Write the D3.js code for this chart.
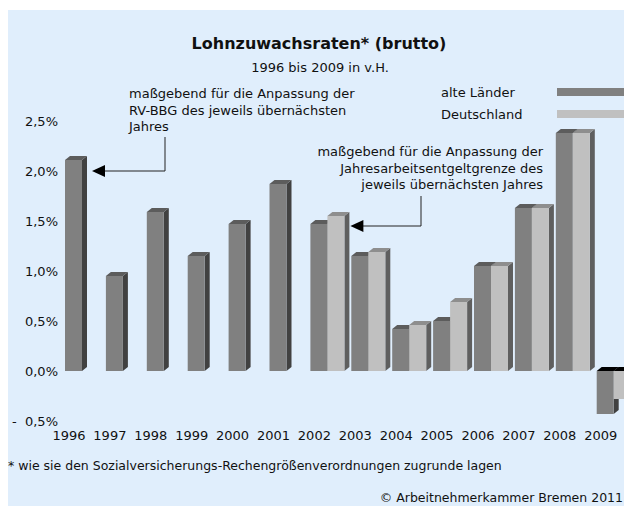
<!DOCTYPE html>
<html>
<head>
<meta charset="utf-8">
<script src="https://cdn.jsdelivr.net/npm/d3@7"></script>
<style>
  body { margin: 0; background: #fff; }
  svg text { font-family: "DejaVu Sans", Verdana, sans-serif; fill: #111; }
</style>
</head>
<body>
<div id="chart"></div>
<script>
// Data
//-------------------------------------------------------
var years = [1996, 1997, 1998, 1999, 2000, 2001, 2002, 2003, 2004, 2005, 2006, 2007, 2008, 2009];
var alteLaender = [2.11, 0.95, 1.59, 1.15, 1.47, 1.87, 1.47, 1.15, 0.42, 0.50, 1.05, 1.63, 2.38, -0.43];
var deutschland = [null, null, null, null, null, null, 1.55, 1.19, 0.46, 0.69, 1.05, 1.63, 2.38, -0.28];
var yTicks = [-0.5, 0, 0.5, 1.0, 1.5, 2.0, 2.5];

// SVG
//-------------------------------------------------------
var svgWidth = 624;
var svgHeight = 511;
var fs = 13;

var svg = d3.select("#chart")
    .append("svg")
    .attr("width", svgWidth)
    .attr("height", svgHeight);

// light blue panel
svg.append("rect")
    .attr("x", 8).attr("y", 10)
    .attr("width", svgWidth - 8).attr("height", 496)
    .attr("fill", "#e0eefc");

// Scales
//-------------------------------------------------------
var yScale = d3.scaleLinear().domain([-0.5, 2.5]).range([421, 121]);
var xScale = d3.scaleBand().domain(years).range([65, 65 + 40.9 * years.length]).padding(0);

var barW = 17;
var dx = 5, dy = -4;

// Y labels
var yAxis = svg.append("g")
    .attr("transform", "translate(58,0)")
    .call(d3.axisLeft(yScale).tickValues(yTicks).tickSize(0).tickPadding(0)
        .tickFormat(d => (d < 0 ? "-\u00a0\u00a0" : "") + d3.format(".1f")(Math.abs(d)).replace(".", ",") + "%"));
yAxis.select(".domain").remove();
yAxis.selectAll("text").attr("font-size", fs).attr("font-family", "DejaVu Sans").attr("fill", "#111");

// X labels
svg.append("g").selectAll("text")
    .data(years)
    .enter()
    .append("text")
    .attr("x", d => xScale(d) + 4)
    .attr("y", 440)
    .attr("text-anchor", "middle")
    .attr("font-size", fs)
    .text(d => d);

// 3D bars
//-------------------------------------------------------
var colors = {
    dark: { front: "#808080", top: "#5c5c5c", side: "#414141" },
    light: { front: "#c0c0c0", top: "#8e8e8e", side: "#5f5f5f" }
};

function drawBar(g, x, v, c) {
    var y0 = yScale(0);
    var yv = yScale(v);
    var yt = Math.min(y0, yv), yb = Math.max(y0, yv);
    // side
    g.append("polygon")
        .attr("points", [[x + barW, yt], [x + barW + dx, yt + dy], [x + barW + dx, yb + dy], [x + barW, yb]].join(" "))
        .attr("fill", c.side);
    // top
    g.append("polygon")
        .attr("points", [[x, yt], [x + dx, yt + dy], [x + barW + dx, yt + dy], [x + barW, yt]].join(" "))
        .attr("fill", v < 0 ? "#000" : c.top);
    // front
    g.append("rect")
        .attr("x", x).attr("y", yt)
        .attr("width", barW).attr("height", yb - yt)
        .attr("fill", c.front);
}

var barsGroup = svg.append("g");
years.forEach(function(yr, i) {
    var x0 = xScale(yr);
    if (alteLaender[i] != null) drawBar(barsGroup, x0, alteLaender[i], colors.dark);
    if (deutschland[i] != null) drawBar(barsGroup, x0 + barW, deutschland[i], colors.light);
});

// Titles
//-------------------------------------------------------
svg.append("text").attr("x", 319).attr("y", 49).attr("text-anchor", "middle")
    .attr("font-size", 16).attr("font-weight", "bold").text("Lohnzuwachsraten* (brutto)");
svg.append("text").attr("x", 320).attr("y", 72).attr("text-anchor", "middle")
    .attr("font-size", fs).text("1996 bis 2009 in v.H.");

// Legend
//-------------------------------------------------------
var legendItems = ["alte Länder", "Deutschland"];
var legend = svg.append("g");
legendItems.forEach(function(name, i) {
    legend.append("text").attr("x", 441).attr("y", 97 + i * 22).attr("font-size", fs).text(name);
    legend.append("rect").attr("x", 557).attr("y", 88 + i * 22)
        .attr("width", 70).attr("height", 8)
        .attr("fill", i === 0 ? colors.dark.front : colors.light.front);
});

// Annotations
//-------------------------------------------------------
function arrow(lineX, lineY1, tipX, tipY) {
    svg.append("polyline")
        .attr("points", [[lineX, lineY1], [lineX, tipY], [tipX + 12, tipY]].join(" "))
        .attr("fill", "none").attr("stroke", "#222").attr("stroke-width", 1);
    svg.append("polygon")
        .attr("points", [[tipX, tipY], [tipX + 13, tipY - 6], [tipX + 13, tipY + 6]].join(" "))
        .attr("fill", "#000");
}

var note1 = ["maßgebend für die Anpassung der", "RV-BBG des jeweils übernächsten", "Jahres"];
note1.forEach(function(t, i) {
    svg.append("text").attr("x", 129).attr("y", 98 + i * 16.5).attr("font-size", fs).text(t);
});
arrow(165, 137, xScale(1996) + barW + dx + 5, yScale(2.0));

var note2 = ["maßgebend für die Anpassung der", "Jahresarbeitsentgeltgrenze des", "jeweils übernächsten Jahres"];
note2.forEach(function(t, i) {
    svg.append("text").attr("x", 543).attr("y", 156 + i * 16.5).attr("text-anchor", "end").attr("font-size", fs).text(t);
});
arrow(421, 196, xScale(2002) + 2 * barW + dx + 1, yScale(1.45));

// Footnotes
//-------------------------------------------------------
svg.append("text").attr("x", 8).attr("y", 470).attr("font-size", 12.5)
    .text("* wie sie den Sozialversicherungs-Rechengrößenverordnungen zugrunde lagen");
svg.append("text").attr("x", 623).attr("y", 502).attr("text-anchor", "end").attr("font-size", 12.5)
    .text("© Arbeitnehmerkammer Bremen 2011");
</script>
</body>
</html>
